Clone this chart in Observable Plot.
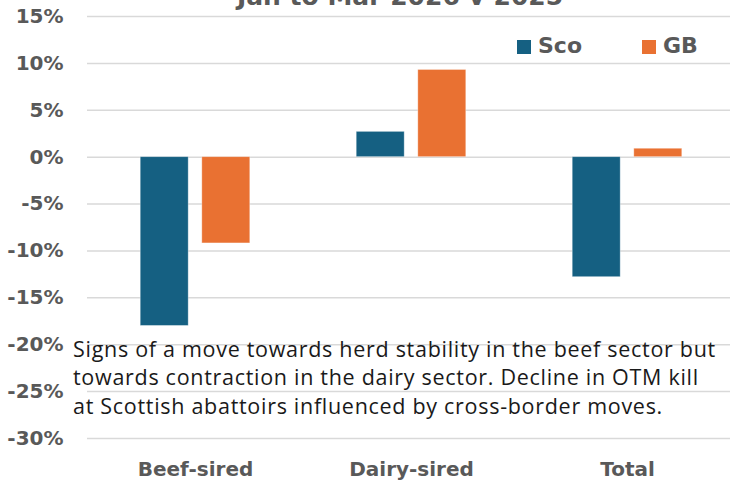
<!DOCTYPE html>
<html>
<head>
<meta charset="utf-8">
<script src="https://cdn.jsdelivr.net/npm/d3@7"></script>
<script src="https://cdn.jsdelivr.net/npm/@observablehq/plot@0.6"></script>
<style>
  html, body { margin: 0; padding: 0; background: #fff; overflow: hidden; width: 730px; height: 482px; }
  #wrap { position: relative; width: 730px; height: 482px; }
  #chart { position: absolute; left: 0; top: 0; }
  #title { position: absolute; left: 0; width: 800px; top: -18px; text-align: center;
           font: bold 25px "DejaVu Sans"; line-height: 30px; color: #595959; white-space: nowrap; }
  #caption { position: absolute; left: 73px; top: 334.5px; font-family: "Open Sans"; font-size: 21.5px;
             line-height: 28.5px; color: #1a1a1a; white-space: nowrap; }
  #caption span { display: inline-block; }
  .lg-sq { position: absolute; width: 14px; height: 14px; top: 40px; }
  .lg-tx { position: absolute; top: 35px; font: bold 22px "DejaVu Sans"; line-height: 22px; color: #595959; }
</style>
</head>
<body>
<div id="wrap">
  <div id="chart"></div>
  <div id="title"></div>
  <div id="caption"></div>
  <div id="legend"></div>
</div>
<script>
const titleText = "Jan to Mar 2026 v 2025";
const categories = ["Beef-sired", "Dairy-sired", "Total"];
const seriesNames = ["Sco", "GB"];
const seriesColors = ["#156082", "#E97132"];
const scoValues = [-18.0, 2.7, -12.8];
const gbValues = [-9.2, 9.3, 0.9];
const yTicks = [15, 10, 5, 0, -5, -10, -15, -20, -25, -30];
const captionLines = [
  "Signs of a move towards herd stability in the beef sector but",
  "towards contraction in the dairy sector. Decline in OTM kill",
  "at Scottish abattoirs influenced by cross-border moves."
];

const scoData = categories.map((c, i) => ({category: c, value: scoValues[i]}));
const gbData = categories.map((c, i) => ({category: c, value: gbValues[i]}));

const chart = Plot.plot({
  width: 730,
  height: 482,
  marginTop: 16,
  marginBottom: 44,
  marginLeft: 87,
  marginRight: 0,
  style: { fontFamily: "DejaVu Sans", background: "transparent" },
  x: { domain: categories, range: [87, 735], padding: 0, axis: null },
  y: { domain: [-30, 15], axis: null },
  marks: [
    Plot.ruleY(yTicks, { stroke: "#d9d9d9", strokeWidth: 1.5 }),
    Plot.barY(scoData, { x: "category", y: "value", fill: seriesColors[0], insetLeft: 84, insetRight: 84, dx: -30.8,
                         stroke: "#ffffff", strokeOpacity: 0.45, strokeWidth: 0.8 }),
    Plot.barY(gbData, { x: "category", y: "value", fill: seriesColors[1], insetLeft: 84, insetRight: 84, dx: 30.8,
                        stroke: "#ffffff", strokeOpacity: 0.45, strokeWidth: 0.8 }),
    Plot.axisY({ ticks: yTicks, tickSize: 0, tickPadding: 24, tickFormat: d => d + "%",
                 fontSize: 20, fontWeight: "bold", fill: "#595959", label: null }),
    Plot.axisX({ tickSize: 0, tickPadding: 23, fontSize: 20, fontWeight: "bold", fill: "#595959", label: null })
  ]
});
document.getElementById("chart").appendChild(chart);

document.getElementById("title").textContent = titleText;

const cap = document.getElementById("caption");
const spans = captionLines.map((line, i) => {
  if (i > 0) cap.appendChild(document.createElement("br"));
  const s = document.createElement("span");
  s.textContent = line;
  cap.appendChild(s);
  return s;
});
// fit the first line to the reference's width (~643px) with letter spacing
const w0 = spans[0].getBoundingClientRect().width;
const ls = (643 - w0) / captionLines[0].length;
cap.style.letterSpacing = ls.toFixed(3) + "px";

const legend = document.getElementById("legend");
const lgPos = [[517, 538], [642, 663]];
seriesNames.forEach((name, i) => {
  const sq = document.createElement("div");
  sq.className = "lg-sq";
  sq.style.left = lgPos[i][0] + "px";
  sq.style.background = seriesColors[i];
  legend.appendChild(sq);
  const tx = document.createElement("div");
  tx.className = "lg-tx";
  tx.style.left = lgPos[i][1] + "px";
  tx.textContent = name;
  legend.appendChild(tx);
});
</script>
</body>
</html>
